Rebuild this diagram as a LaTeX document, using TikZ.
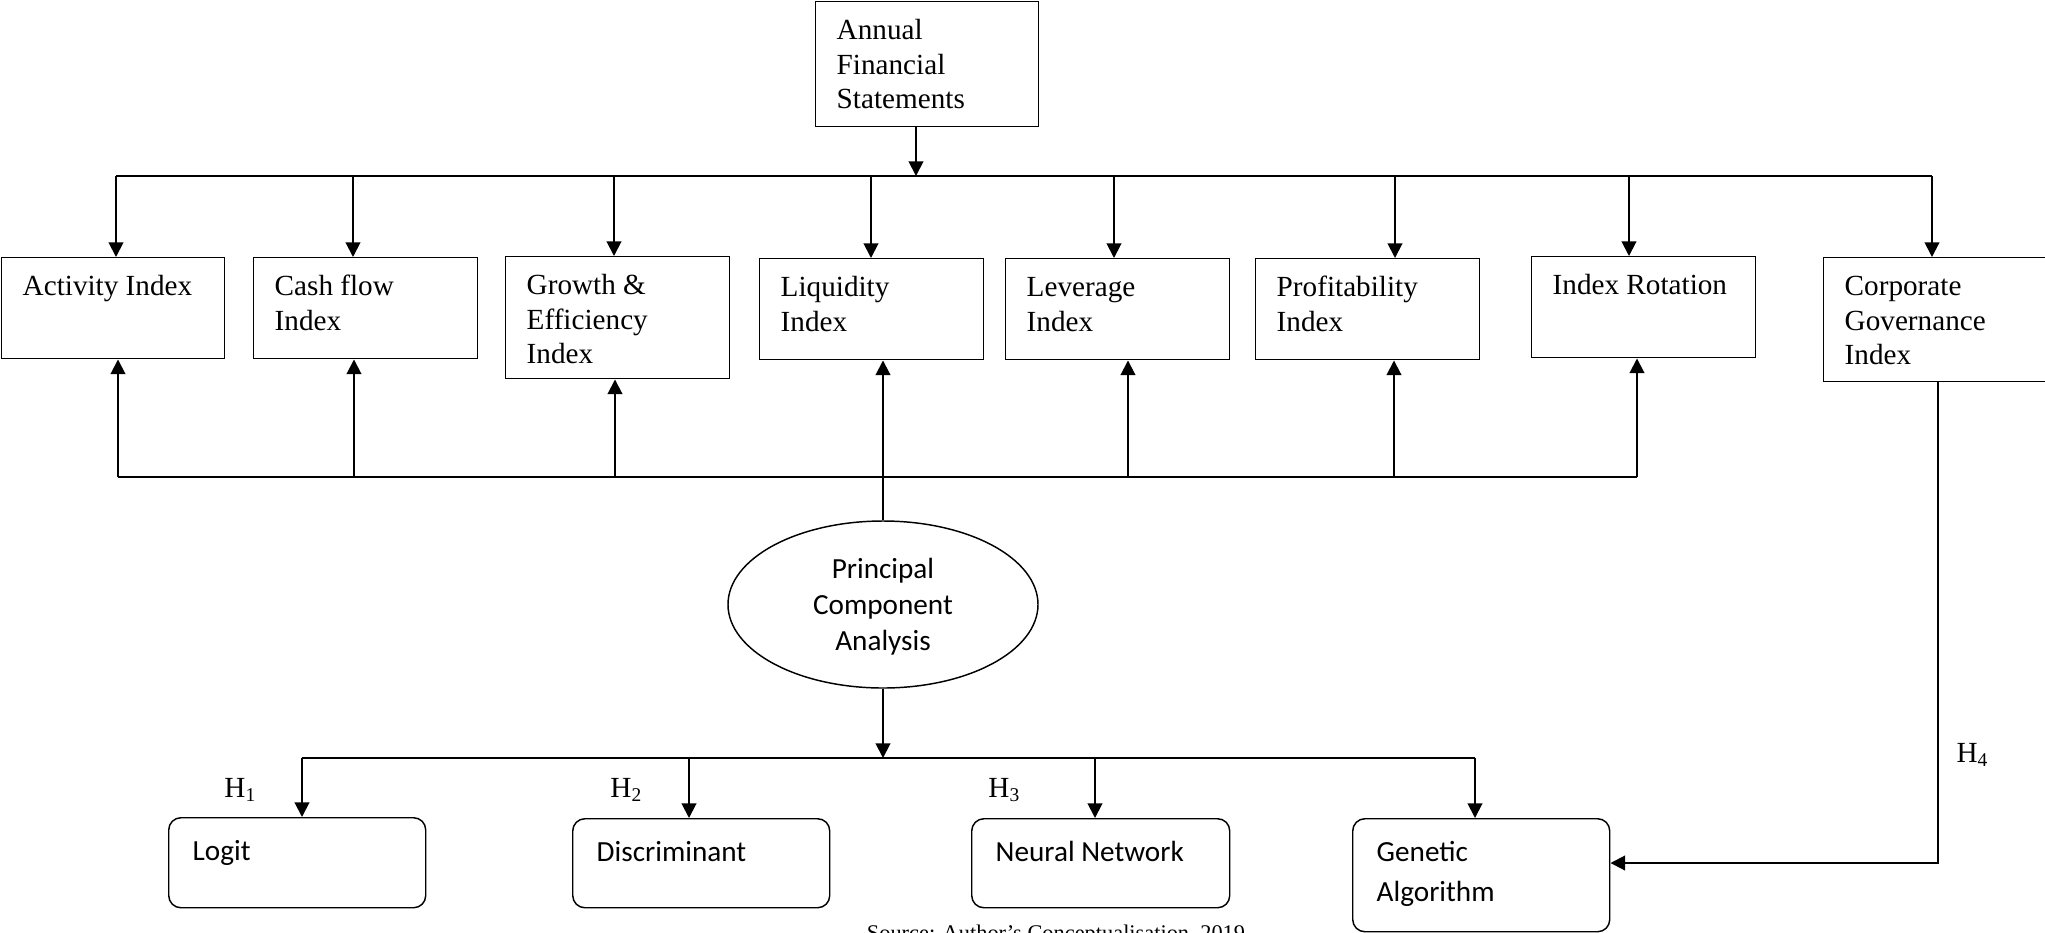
\documentclass[tikz,border=0pt]{standalone}
\usepackage{fontspec}
\setmainfont{Liberation Serif}
\setsansfont{Carlito}
\usetikzlibrary{arrows.meta,shapes.geometric}
\newdimen\pxu \pxu=0.411pt
% text set at the top left of a fixed box (width, height in px)
\newcommand{\idxtext}[3]{\parbox[c][#2\pxu][t]{#1\pxu}{\vspace*{5.7pt}\leftskip=21\pxu\relax\strut#3}}
\newcommand{\modtext}[3]{\parbox[c][#2\pxu][t]{#1\pxu}{\vspace*{6.2pt}\leftskip=24\pxu\relax\strut#3}}
\tikzset{
  idxbox/.style={rectangle, draw=black, line width=0.6pt, inner sep=0pt, anchor=north west,
    font=\rmfamily\fontsize{12}{14.2}\selectfont},
  modbox/.style={idxbox, rounded corners=5pt, font=\sffamily\fontsize{12}{16.4}\selectfont},
  oval/.style={ellipse, draw=black, line width=0.6pt, inner sep=0pt, align=center, text depth=0pt,
    minimum width=310\pxu, minimum height=167\pxu, font=\sffamily\fontsize{12}{14.8}\selectfont},
  hyp/.style={anchor=base west, inner sep=0pt, font=\rmfamily\fontsize{12}{14}\selectfont},
  flow/.style={-{Triangle[length=6pt,width=6pt]}, line width=0.8pt},
  bus/.style={line width=0.8pt},
}
\begin{document}
\begin{tikzpicture}[x=0.411pt, y=-0.411pt]
  \useasboundingbox (0,0) rectangle (2045,932);

  \node[idxbox] (ann) at (815,1) {\idxtext{223}{125}{Annual\\Financial\\Statements}};

  % index row
  \node[idxbox] (act)  at (1,257)    {\idxtext{223}{101}{Activity Index}};
  \node[idxbox] (cash) at (253,257)  {\idxtext{224}{101}{Cash flow\\Index}};
  \node[idxbox] (grow) at (505,256)  {\idxtext{224}{122}{Growth \&\\Efficiency\\Index}};
  \node[idxbox] (liq)  at (759,258)  {\idxtext{224}{101}{Liquidity\\Index}};
  \node[idxbox] (lev)  at (1005,258) {\idxtext{224}{101}{Leverage\\Index}};
  \node[idxbox] (prof) at (1255,258) {\idxtext{224}{101}{Profitability\\Index}};
  \node[idxbox] (rot)  at (1531,256) {\idxtext{224}{101}{Index Rotation}};
  \node[idxbox] (corp) at (1823,257) {\idxtext{222}{124}{Corporate\\Governance\\Index}};

  \node[oval] (pca) at (883,604.5) {Principal\\Component\\Analysis};

  % models
  \node[modbox] (logit) at (168,817)  {\modtext{257}{90}{Logit}};
  \node[modbox] (disc)  at (572,818)  {\modtext{257}{89}{Discriminant}};
  \node[modbox] (nn)    at (971,818)  {\modtext{258}{89}{Neural Network}};
  \node[modbox] (ga)    at (1352,818) {\modtext{257}{113}{Genetic\\Algorithm}};

  \node[hyp] (h1) at (224,797)  {H\textsubscript{1}};
  \node[hyp] (h2) at (610,797)  {H\textsubscript{2}};
  \node[hyp] (h3) at (988,797)  {H\textsubscript{3}};
  \node[hyp] (h4) at (1956,762) {H\textsubscript{4}};

  \node[anchor=base, inner sep=0pt, font=\rmfamily\fontsize{9.2}{11}\selectfont] (src)
    at (1056,940) {Source: Author's Conceptualisation, 2019};

  % top bus
  \coordinate (topL) at (116,176);
  \coordinate (topR) at (1932,176);
  \coordinate (feed) at (916,176);
  \draw[bus] (topL) -- (topR);
  \draw[flow] (feed |- ann.south) -- (feed);
  \foreach \n/\x in {act/116, cash/353, grow/614, liq/871, lev/1114, prof/1395, rot/1629, corp/1932}{
    \coordinate (tap) at (\x,176);
    \draw[flow] (tap) -- (tap |- \n.north);
  }

  % middle bus
  \coordinate (midL) at (118,477);
  \coordinate (midR) at (1637,477);
  \draw[bus] (midL) -- (midR);
  \foreach \n/\x in {act/118, cash/354, grow/615, lev/1128, prof/1394, rot/1637}{
    \coordinate (tap) at (\x,477);
    \draw[flow] (tap) -- (tap |- \n.south);
  }
  \draw[flow] (pca.north) -- (pca.north |- liq.south);

  % lower bus
  \coordinate (lowL) at (302,758);
  \coordinate (lowR) at (1475,758);
  \draw[flow] (pca.south) -- (pca.south |- lowL);
  \draw[bus] (lowL) -- (lowR);
  \foreach \n/\x in {logit/302, disc/689, nn/1095, ga/1475}{
    \coordinate (tap) at (\x,758);
    \draw[flow] (tap) -- (tap |- \n.north);
  }

  % governance link
  \coordinate (govturn) at (1938,863);
  \draw[flow] (govturn |- corp.south) -- (govturn) -- (govturn -| ga.east);
\end{tikzpicture}
\end{document}
